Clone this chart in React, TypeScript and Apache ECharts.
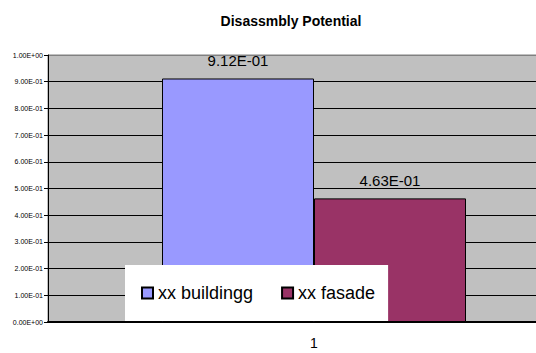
import React, { useEffect, useRef } from "react";
import * as echarts from "echarts";

const categories = ["1"];
const seriesNames = ["xx buildingg", "xx fasade"];
const buildingValues = [0.912];
const fasadeValues = [0.463];
const seriesColors = ["#9999FF", "#993366"];

const fmtExp = (v: number) => {
  const s = v.toExponential(2);
  const [m, e] = s.split("e");
  const n = parseInt(e, 10);
  const sign = n < 0 ? "-" : "+";
  const abs = Math.abs(n).toString().padStart(2, "0");
  return `${m}E${sign}${abs}`;
};

export default function App() {
  const ref = useRef<HTMLDivElement>(null);
  useEffect(() => {
    if (!ref.current) return;
    const chart = echarts.init(ref.current, null, { renderer: "svg" });
    const font = "Liberation Sans, Arial, sans-serif";
    const splitColors = Array.from({ length: 11 }, (_, i) => (i === 10 ? "#808080" : "#000000"));
    const label = {
      show: true,
      position: "top",
      distance: 10,
      fontFamily: font,
      fontSize: 15,
      color: "#000",
      formatter: (p: any) => fmtExp(p.value),
    };
    chart.setOption({
      animation: false,
      backgroundColor: "#ffffff",
      title: {
        text: "Disassmbly Potential",
        left: 286,
        textAlign: "center",
        top: 9,
        textStyle: { fontFamily: font, fontSize: 14, fontWeight: "bold", color: "#000" },
      },
      grid: {
        left: 48,
        top: 55,
        width: 532,
        height: 267,
        show: true,
        backgroundColor: "#C0C0C0",
        borderColor: "#808080",
        borderWidth: 1,
      },
      legend: {
        left: 125,
        top: 265,
        orient: "horizontal",
        backgroundColor: "#ffffff",
        padding: [19, 13, 19, 16],
        itemGap: 28,
        itemWidth: 11,
        itemHeight: 11,
        icon: "rect",
        textStyle: { fontFamily: font, fontSize: 18, color: "#000" },
        data: seriesNames,
      },
      xAxis: {
        type: "category",
        data: categories,
        axisLine: { lineStyle: { color: "#000", width: 2 } },
        axisTick: { show: false },
        axisLabel: { fontFamily: font, fontSize: 14, color: "#000", margin: 14 },
        splitLine: { show: false },
      },
      yAxis: {
        type: "value",
        min: 0,
        max: 1,
        interval: 0.1,
        axisLine: { show: true, lineStyle: { color: "#000", width: 1 } },
        axisTick: { show: true, length: 4, lineStyle: { color: "#000" } },
        axisLabel: {
          fontFamily: font,
          fontSize: 7,
          color: "#000",
          margin: 5,
          formatter: (v: number) => fmtExp(v),
        },
        splitLine: { show: true, lineStyle: { color: splitColors, width: 1 } },
      },
      series: [
        {
          name: seriesNames[0],
          type: "bar",
          data: buildingValues,
          barWidth: 152,
          barGap: "0%",
          itemStyle: { color: seriesColors[0], borderColor: "#000", borderWidth: 1 },
          label,
        },
        {
          name: seriesNames[1],
          type: "bar",
          data: fasadeValues,
          barWidth: 152,
          barGap: "0%",
          itemStyle: { color: seriesColors[1], borderColor: "#000", borderWidth: 1 },
          label,
        },
      ],
    });
    return () => chart.dispose();
  }, []);
  return (
    <div style={{ position: "fixed", left: 0, top: 0, width: 536, height: 353, overflow: "hidden", background: "#fff" }}>
      <div ref={ref} style={{ width: 582, height: 353 }} />
    </div>
  );
}
